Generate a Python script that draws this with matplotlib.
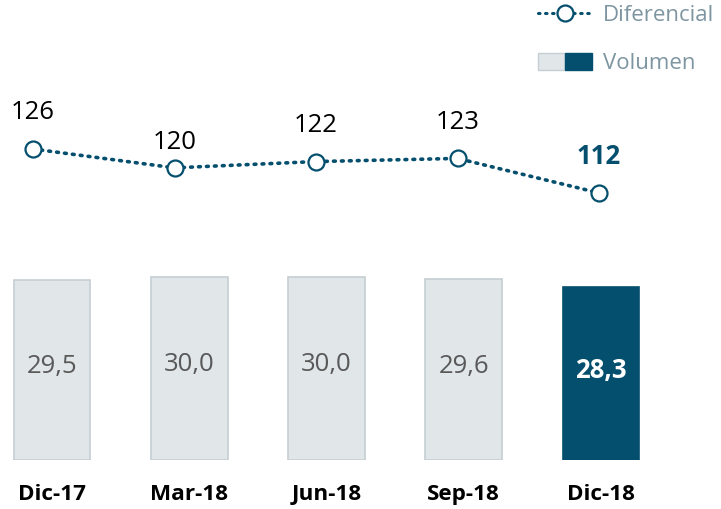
import matplotlib.pyplot as plt
from matplotlib.lines import Line2D
from matplotlib.patches import Patch
from matplotlib.legend_handler import HandlerTuple

plt.rcParams['font.family'] = ['Open Sans', 'DejaVu Sans']

# Datos
periodos = ['Dic-17', 'Mar-18', 'Jun-18', 'Sep-18', 'Dic-18']
volumen = [29.5, 30.0, 30.0, 29.6, 28.3]
diferencial = [126, 120, 122, 123, 112]

AZUL = '#044f6d'
GRIS_BARRA = '#e1e6e9'
GRIS_BORDE = '#c5ced3'
GRIS_TEXTO = '#595959'
GRIS_LEYENDA = '#7d95a1'

W, H = 721, 509
fig = plt.figure(figsize=(W / 100, H / 100), dpi=100)

# Barras de volumen
ax_b = fig.add_axes([0, (H - 460) / H, 1, 200 / H])
x = list(range(len(periodos)))
colores = [GRIS_BARRA] * 4 + [AZUL]
bordes = [GRIS_BORDE] * 4 + [AZUL]
ax_b.bar(x, volumen, width=0.56, color=colores, edgecolor=bordes, linewidth=1.2)
ax_b.set_xlim(-52 / 137.25, (W - 52) / 137.25)
ax_b.set_ylim(0, 200 / 6.1)
for i, v in enumerate(volumen):
    etiqueta = f'{v:.1f}'.replace('.', ',')
    ultimo = i == len(volumen) - 1
    ax_b.text(i, v / 2 + 0.6, etiqueta, ha='center', va='center', fontsize=18.5,
              color='white' if ultimo else GRIS_TEXTO,
              fontweight='bold' if ultimo else 'normal')
    ax_b.text(i, -5.6, periodos[i], ha='center', va='center', fontsize=16.2,
              fontweight='bold', color='black', clip_on=False)
ax_b.axis('off')

# Línea del diferencial
ax_l = fig.add_axes([0, (H - 220) / H, 1, 120 / H])
xl = list(range(len(diferencial)))
ax_l.plot(xl, diferencial, color=AZUL, linestyle=(0, (0.5, 1.7)), linewidth=2.6,
          dash_capstyle='round', marker='o', markersize=11.5,
          markerfacecolor='white', markeredgecolor=AZUL, markeredgewidth=1.6)
ax_l.set_xlim(-33 / 141.5, (W - 33) / 141.5)
ax_l.set_ylim(126 - 71 / 3.14, 126 + 49 / 3.14)
for i, d in enumerate(diferencial):
    ultimo = i == len(diferencial) - 1
    dy = 8.0 if i == 1 else 11.5
    ax_l.text(i, d + dy, str(d), ha='center', va='center', fontsize=18.5,
              color=AZUL if ultimo else 'black',
              fontweight='bold' if ultimo else 'normal', clip_on=False)
ax_l.axis('off')

# Leyenda
h_linea = Line2D([], [], color=AZUL, linestyle=(0, (0.5, 1.8)), linewidth=2.2,
                 dash_capstyle='round', marker='o', markersize=11.5,
                 markerfacecolor='white', markeredgecolor=AZUL, markeredgewidth=1.6)
h_vol = (Patch(facecolor=GRIS_BARRA, edgecolor=GRIS_BORDE),
         Patch(facecolor=AZUL, edgecolor=AZUL))
leg = fig.legend([h_linea, h_vol], ['Diferencial', 'Volumen'],
                 handler_map={tuple: HandlerTuple(ndivide=None, pad=0)},
                 loc='upper right', bbox_to_anchor=(1.018, 1.03), frameon=False,
                 fontsize=16, handlelength=2.4, handleheight=0.8,
                 handletextpad=0.5, labelspacing=1.2, numpoints=1)
for t in leg.get_texts():
    t.set_color(GRIS_LEYENDA)

fig.savefig('out.png', dpi=100, facecolor='white')
